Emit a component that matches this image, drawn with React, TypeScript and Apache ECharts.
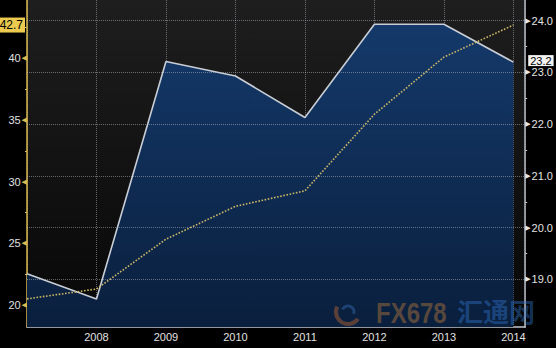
import React, { useEffect, useRef } from "react";
import * as echarts from "echarts";

const years = [2007, 2008, 2009, 2010, 2011, 2012, 2013, 2014];
const areaValues = [19.11, 18.62, 23.21, 22.93, 22.13, 23.93, 23.93, 23.2];
const dottedValues = [20.5, 21.3, 25.34, 28.0, 29.26, 35.47, 40.1, 42.7];
const leftTicks = [20, 25, 30, 35, 40];
const leftMinorTicks = [20, 22.5, 25, 27.5, 30, 32.5, 35, 37.5, 40, 42.5];
const rightTicks = [19, 20, 21, 22, 23, 24];
const rightMinorTicks = [19, 19.5, 20, 20.5, 21, 21.5, 22, 22.5, 23, 23.5, 24];
const leftLast = 42.7;
const rightLast = 23.2;

const FONT = "'Liberation Sans', Arial, sans-serif";
const YELLOW = "#d9bb4f";
const GRID_LINE = "rgba(185,190,200,0.5)";

export default function App() {
  const ref = useRef<HTMLDivElement>(null);

  useEffect(() => {
    if (!ref.current) return;
    const chart = echarts.init(ref.current, undefined, { renderer: "svg" });
    const option: any = {
      animation: false,
      backgroundColor: "#000000",
      textStyle: { fontFamily: FONT },
      grid: {
        left: 27,
        right: 29,
        top: 0,
        bottom: 21,
        show: true,
        borderWidth: 0,
        backgroundColor: new echarts.graphic.LinearGradient(0, 0, 0, 1, [
          { offset: 0, color: "#1e1e1e" },
          { offset: 1, color: "#070707" },
        ]),
      },
      xAxis: {
        type: "value",
        min: 2007,
        max: 2014.17,
        interval: 1,
        axisLine: { show: true, lineStyle: { color: "#c4c8cf", width: 1.5 } },
        axisTick: { show: false },
        axisLabel: {
          color: "#e2e2e2",
          fontSize: 11,
          fontFamily: FONT,
          margin: 4,
          formatter: (v: number) =>
            Number.isInteger(v) && v !== 2007 ? String(v) : "",
        },
        splitLine: {
          show: true,
          lineStyle: { color: GRID_LINE, type: "dotted", width: 1 },
        },
      },
      yAxis: [
        {
          type: "value",
          position: "left",
          min: 18.22,
          max: 44.73,
          axisLine: { show: true, lineStyle: { color: YELLOW, width: 1.5 } },
          axisTick: {
            show: true,
            customValues: leftMinorTicks,
            length: 2,
            lineStyle: { color: YELLOW, width: 1 },
          },
          axisLabel: {
            customValues: leftTicks,
            margin: 0,
            fontFamily: FONT,
            formatter: (v: number) => `{v|${v}}{t|◀}`,
            rich: {
              v: { color: "#e2e2e2", fontSize: 11, fontFamily: FONT, padding: [0, 1, 0, 0] },
              t: { color: YELLOW, fontSize: 7, fontFamily: "DejaVu Sans" },
            },
          },
          splitLine: { show: false },
        },
        {
          type: "value",
          position: "right",
          min: 18.08,
          max: 24.4,
          axisLine: { show: true, lineStyle: { color: "#b8bcc4", width: 1.5 } },
          axisTick: {
            show: true,
            customValues: rightMinorTicks,
            length: 2,
            lineStyle: { color: "#c8c8c8", width: 1 },
          },
          axisLabel: {
            customValues: rightTicks,
            margin: 0,
            fontFamily: FONT,
            formatter: (v: number) => `{t|▶}{v|${v.toFixed(1)}}`,
            rich: {
              v: { color: "#e2e2e2", fontSize: 11, fontFamily: FONT, padding: [0, 0, 0, 1] },
              t: { color: "#e8e8e8", fontSize: 7, fontFamily: "DejaVu Sans" },
            },
          },
          splitLine: { show: false },
        },
      ],
      series: [
        {
          type: "line",
          yAxisIndex: 1,
          data: years.map((y, i) => [y, areaValues[i]]),
          symbol: "none",
          lineStyle: { color: "#c9ced6", width: 1.6 },
          areaStyle: {
            origin: "start",
            opacity: 1,
            color: new echarts.graphic.LinearGradient(0, 0, 0, 1, [
              { offset: 0, color: "#14396a" },
              { offset: 1, color: "#0a1f3d" },
            ]),
          },
          z: 2,
          markLine: {
            silent: true,
            symbol: "none",
            animation: false,
            data: rightTicks.map((t) => ({
              yAxis: t,
              label: { show: false },
              lineStyle: { color: GRID_LINE, type: "dotted", width: 1 },
            })),
          },
        },
        {
          type: "line",
          yAxisIndex: 1,
          data: [],
          symbol: "none",
          z: 6,
          markLine: {
            silent: true,
            symbol: "none",
            animation: false,
            lineStyle: { color: "rgba(0,0,0,0)", width: 1 },
            label: {
              show: true,
              position: "end",
              distance: 3,
              offset: [0, -1.5],
              formatter: rightLast.toFixed(1),
              backgroundColor: "#f2f2f2",
              color: "#000",
              fontSize: 11,
              lineHeight: 11,
              fontFamily: FONT,
              padding: [0, 2, 0, 2],
            },
            data: [{ yAxis: rightLast }],
          },
        },
        {
          type: "line",
          yAxisIndex: 0,
          data: years.map((y, i) => [y, dottedValues[i]]),
          symbol: "none",
          lineStyle: { color: "#ccb766", width: 1.6, type: "dotted" },
          z: 3,
          markLine: {
            silent: true,
            symbol: "none",
            animation: false,
            lineStyle: { color: "rgba(0,0,0,0)", width: 1 },
            label: {
              show: true,
              position: "start",
              distance: 2,
              formatter: String(leftLast),
              backgroundColor: "#ecc94f",
              color: "#000",
              fontSize: 12,
              fontFamily: FONT,
              padding: [2, 2, 1, 1],
            },
            data: [{ yAxis: leftLast }],
          },
        },
      ],
      graphic: [
        {
          type: "arc",
          shape: { cx: 348, cy: 312, r: 12, startAngle: 0.6, endAngle: 3.6 },
          style: { stroke: "rgba(210,110,50,0.4)", lineWidth: 4, fill: "none" },
          z: 10,
        },
        {
          type: "arc",
          shape: { cx: 348, cy: 312, r: 6, startAngle: 3.6, endAngle: 6.6 },
          style: { stroke: "rgba(60,120,200,0.4)", lineWidth: 3, fill: "none" },
          z: 10,
        },
        {
          type: "text",
          x: 376,
          y: 297,
          scaleX: 0.8,
          style: {
            text: "FX678",
            font: "bold 30px 'Liberation Sans', Arial, sans-serif",
            fill: "rgba(200,130,60,0.42)",
          },
          z: 10,
        },
        {
          type: "text",
          x: 457,
          y: 297,
          style: {
            text: "汇通网",
            font: "bold 26px 'Noto Sans CJK SC', sans-serif",
            fill: "rgba(50,120,210,0.42)",
          },
          z: 10,
        },
      ],
    };
    chart.setOption(option);
    return () => chart.dispose();
  }, []);

  return <div ref={ref} style={{ width: 556, height: 348, position: "absolute", left: 0, top: 0 }} />;
}
